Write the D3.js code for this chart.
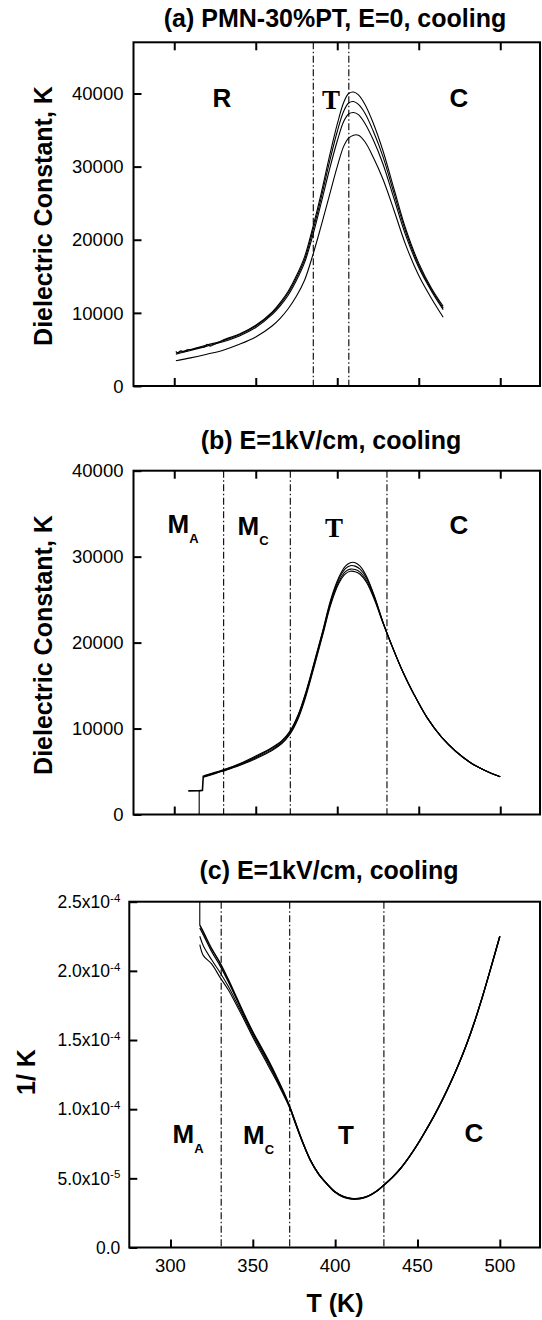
<!DOCTYPE html>
<html><head><meta charset="utf-8">
<script src="https://cdn.jsdelivr.net/npm/d3@7"></script>
<style>
html,body{margin:0;padding:0;background:#fff;}
svg{display:block;}
text{font-family:"Liberation Sans",Arial,Helvetica,sans-serif;fill:#000;}
</style></head><body>
<svg id="chart" width="542" height="1320"></svg>
<script>
// ---------- shared axis data ----------
const xTicks = [300, 350, 400, 450, 500];
const xTickLabels = ["300", "350", "400", "450", "500"];
const kTicks = [0, 10000, 20000, 30000, 40000];
const kTickLabels = ["0", "10000", "20000", "30000", "40000"];
const invTicks = [0, 5e-5, 1e-4, 1.5e-4, 2e-4, 2.5e-4];
const invTickMant = ["0.0", "5.0x10", "1.0x10", "1.5x10", "2.0x10", "2.5x10"];
const invTickExp = ["", "-5", "-4", "-4", "-4", "-4"];

// ---------- panel (a): PMN-30%PT, E=0 ----------
const tA = [301, 310, 320, 330, 340, 350, 360, 365, 370, 375, 380, 385, 390, 395, 400, 404, 407, 410, 413, 417, 422, 428, 435, 442, 450, 458, 465];
const tA1 = [301, 302, 304, 306, 308, 311, 314, 317, 319, 320, 322, 325, 328, 330, 340, 350, 360, 365, 370, 375, 380, 385, 390, 395, 400, 404, 407, 410, 413, 417, 422, 428, 435, 442, 450, 458, 465];
const kA1 = [4750, 4550, 4800, 4700, 4950, 5000, 5200, 5300, 5400, 5700, 5450, 5750, 6050, 6300, 7100, 8300, 10100, 11400, 13000, 15100, 17700, 21700, 26200, 31200, 35800, 38800, 40000, 40200, 39800, 38500, 36000, 32200, 26800, 21500, 16800, 13300, 10900];
const kA2 = [4500, 5000, 5600, 6200, 7000, 8200, 9950, 11200, 12750, 14800, 17300, 21200, 25600, 30400, 34800, 37600, 38700, 38900, 38500, 37300, 34900, 31400, 26200, 21100, 16500, 13100, 10650];
const kA3 = [4350, 4850, 5450, 6050, 6850, 8000, 9750, 10950, 12450, 14450, 16900, 20600, 24900, 29400, 33500, 36200, 37200, 37400, 37100, 35900, 33700, 30400, 25500, 20600, 16200, 12900, 10450];
const kA4 = [3450, 3850, 4350, 4900, 5700, 6700, 8200, 9250, 10600, 12300, 14500, 17900, 21800, 25900, 30000, 32800, 33900, 34300, 34300, 33400, 31300, 28300, 23900, 19300, 15100, 11900, 9400];
const boundsA = [385.3, 407.1];

// ---------- panel (b): E=1kV/cm ----------
const tB = [318, 325, 330, 340, 350, 360, 366, 371, 376, 381, 386, 391, 396, 401, 405, 408, 411, 414, 418, 423, 428, 433, 440, 447, 455, 464, 473, 482, 491, 500];
const kB1 = [4500, 4900, 5200, 5900, 6800, 7800, 8600, 9700, 11600, 14400, 17800, 21300, 25000, 27600, 28900, 29300, 29300, 28900, 27700, 25300, 22400, 19900, 16700, 14000, 11300, 9000, 7300, 6000, 5100, 4400];
const kB2 = [4450, 4850, 5150, 5850, 6700, 7700, 8500, 9600, 11500, 14300, 17700, 21200, 24800, 27400, 28600, 28950, 28900, 28550, 27500, 25200, 22400, 19900, 16700, 14000, 11300, 9000, 7300, 6000, 5100, 4400];
const kB3 = [4400, 4800, 5100, 5750, 6600, 7550, 8350, 9450, 11300, 14100, 17500, 21000, 24600, 27100, 28250, 28550, 28500, 28200, 27200, 25050, 22350, 19900, 16700, 14000, 11300, 9000, 7300, 6000, 5100, 4400];
const kB4 = [4350, 4750, 5050, 5700, 6500, 7450, 8250, 9350, 11150, 13900, 17300, 20800, 24400, 26900, 28000, 28300, 28250, 27950, 27000, 24900, 22300, 19850, 16700, 14000, 11300, 9000, 7300, 6000, 5100, 4400];
const tBStep = [308.6, 315.5, 317.3, 317.8, 318];
const kBStep = [2750, 2780, 2800, 4450, 4500];
const tBDrop = [315.3, 315.3, 316];
const kBDrop = [0, 2700, 2780];
const boundsB = [330.3, 371.2, 430.5];

// ---------- panel (c): 1/K, E=1kV/cm ----------
const tC = [317.8, 320, 325, 330, 335, 340, 345, 350, 355, 360, 365, 370, 373, 376, 380, 385, 390, 395, 400, 405, 410, 415, 420, 425, 430, 435, 440, 445, 450, 455, 460, 465, 470, 475, 480, 485, 490, 495, 500];
const invC1 = [2.33e-4, 2.28e-4, 2.16e-4, 2.06e-4, 1.94e-4, 1.81e-4, 1.68e-4, 1.56e-4, 1.45e-4, 1.34e-4, 1.22e-4, 1.09e-4, 1.00e-4, 0.90e-4, 0.77e-4, 0.63e-4, 0.53e-4, 0.46e-4, 0.40e-4, 0.365e-4, 0.35e-4, 0.352e-4, 0.37e-4, 0.405e-4, 0.455e-4, 0.51e-4, 0.575e-4, 0.655e-4, 0.745e-4, 0.845e-4, 0.95e-4, 1.065e-4, 1.19e-4, 1.325e-4, 1.475e-4, 1.645e-4, 1.835e-4, 2.04e-4, 2.25e-4];
const invC2 = [2.31e-4, 2.26e-4, 2.14e-4, 2.04e-4, 1.925e-4, 1.80e-4, 1.67e-4, 1.55e-4, 1.44e-4, 1.33e-4, 1.21e-4, 1.085e-4, 1.00e-4, 0.90e-4, 0.77e-4, 0.63e-4, 0.53e-4, 0.46e-4, 0.40e-4, 0.366e-4, 0.352e-4, 0.354e-4, 0.371e-4, 0.405e-4, 0.455e-4, 0.51e-4, 0.575e-4, 0.655e-4, 0.745e-4, 0.845e-4, 0.95e-4, 1.065e-4, 1.19e-4, 1.325e-4, 1.475e-4, 1.645e-4, 1.835e-4, 2.04e-4, 2.25e-4];
const invC3 = [2.25e-4, 2.18e-4, 2.08e-4, 1.99e-4, 1.89e-4, 1.775e-4, 1.655e-4, 1.535e-4, 1.425e-4, 1.315e-4, 1.20e-4, 1.08e-4, 0.995e-4, 0.895e-4, 0.77e-4, 0.63e-4, 0.53e-4, 0.46e-4, 0.402e-4, 0.368e-4, 0.354e-4, 0.356e-4, 0.372e-4, 0.406e-4, 0.456e-4, 0.511e-4, 0.576e-4, 0.655e-4, 0.745e-4, 0.845e-4, 0.95e-4, 1.065e-4, 1.19e-4, 1.325e-4, 1.475e-4, 1.645e-4, 1.835e-4, 2.04e-4, 2.25e-4];
const invC4 = [2.19e-4, 2.11e-4, 2.05e-4, 1.955e-4, 1.865e-4, 1.755e-4, 1.64e-4, 1.52e-4, 1.41e-4, 1.30e-4, 1.19e-4, 1.07e-4, 0.99e-4, 0.89e-4, 0.765e-4, 0.63e-4, 0.53e-4, 0.46e-4, 0.403e-4, 0.37e-4, 0.356e-4, 0.357e-4, 0.373e-4, 0.407e-4, 0.457e-4, 0.512e-4, 0.577e-4, 0.656e-4, 0.745e-4, 0.845e-4, 0.95e-4, 1.065e-4, 1.19e-4, 1.325e-4, 1.475e-4, 1.645e-4, 1.835e-4, 2.04e-4, 2.25e-4];
const tCJump = [317.8, 317.8];
const invCJump = [2.5e-4, 2.33e-4];
const boundsC = [330.8, 372.4, 429.6];

// ---------- drawing ----------
const svg = d3.select("#chart");
const FONT_BOLD = 25;
const xDomain = [275, 525];

function makePanel(cfg) {
  const x = d3.scaleLinear().domain(xDomain).range([cfg.left, 541]);
  const y = d3.scaleLinear().domain(cfg.yDomain).range([cfg.bottom, cfg.top]);
  const g = svg.append("g");
  const clipId = "clip" + cfg.id;
  svg.append("clipPath").attr("id", clipId).append("rect")
    .attr("x", cfg.left).attr("y", cfg.top)
    .attr("width", 540 - cfg.left).attr("height", cfg.bottom - cfg.top);

  // boundaries (dash-dot)
  g.selectAll("line.bound").data(cfg.bounds).join("line")
    .attr("x1", d => x(d)).attr("x2", d => x(d))
    .attr("y1", cfg.top).attr("y2", cfg.bottom)
    .attr("stroke", "#000").attr("stroke-width", 1.1)
    .attr("stroke-dasharray", "7,2.5,1.5,2.5");

  // curves
  const cg = g.append("g").attr("clip-path", `url(#${clipId})`);
  cfg.series.forEach(s => {
    const pts = s.t.map((t, i) => [t, s.v[i]]);
    const line = d3.line().x(d => x(d[0])).y(d => y(d[1]))
      .curve(s.linear ? d3.curveLinear : d3.curveCatmullRom.alpha(0.5));
    cg.append("path").attr("d", line(pts)).attr("fill", "none")
      .attr("stroke", "#000").attr("stroke-width", s.w || 1.1)
      .attr("stroke-linejoin", "round");
  });

  // axes ticks (inward)
  const bx = g.append("g").attr("transform", `translate(0,${cfg.bottom})`)
    .call(d3.axisBottom(x).tickValues(xTicks).tickSize(-8).tickFormat(""));
  bx.select(".domain").remove();
  bx.selectAll("line").attr("stroke-width", 2);
  if (cfg.topTicks) {
    const tx = g.append("g").attr("transform", `translate(0,${cfg.top})`)
      .call(d3.axisTop(x).tickValues(xTicks).tickSize(-8).tickFormat(""));
    tx.select(".domain").remove();
    tx.selectAll("line").attr("stroke-width", 2);
  }
  const ly = g.append("g").attr("transform", `translate(${cfg.left},0)`)
    .call(d3.axisLeft(y).tickValues(cfg.yTicks).tickSize(-8).tickFormat(""));
  ly.select(".domain").remove();
  ly.selectAll("line").attr("stroke-width", 2);

  // frame
  g.append("rect").attr("x", cfg.left).attr("y", cfg.top)
    .attr("width", 540 - cfg.left).attr("height", cfg.bottom - cfg.top)
    .attr("fill", "none").attr("stroke", "#000").attr("stroke-width", 2);

  // y tick labels
  if (cfg.yLabelsExp) {
    const tl = g.selectAll("text.yl").data(cfg.yTicks).join("text")
      .attr("x", cfg.left - 9).attr("y", d => y(d)).attr("dy", "0.36em")
      .attr("text-anchor", "end").attr("font-size", 17.5);
    tl.append("tspan").text((d, i) => cfg.yLabels[i]);
    tl.append("tspan").attr("dy", "-0.55em").attr("font-size", 11.5)
      .text((d, i) => cfg.yLabelsExp[i]);
  } else {
    g.selectAll("text.yl").data(cfg.yTicks).join("text")
      .attr("x", cfg.left - 10).attr("y", d => y(d)).attr("dy", "0.36em")
      .attr("text-anchor", "end").attr("font-size", 18.5)
      .text((d, i) => cfg.yLabels[i]);
  }

  // x tick labels
  if (cfg.xLabels) {
    g.selectAll("text.xl").data(xTicks).join("text")
      .attr("x", d => x(d)).attr("y", cfg.bottom + 24.5)
      .attr("text-anchor", "middle").attr("font-size", 18.5)
      .text((d, i) => xTickLabels[i]);
  }

  // title
  g.append("text").attr("x", cfg.titleX).attr("y", cfg.titleY)
    .attr("text-anchor", "middle").attr("font-size", FONT_BOLD).attr("font-weight", "bold")
    .text(cfg.title);

  // y axis title
  g.append("text")
    .attr("transform", `translate(${cfg.yTitleX},${cfg.yTitleY}) rotate(-90)`)
    .attr("text-anchor", "middle").attr("font-size", FONT_BOLD).attr("font-weight", "bold")
    .text(cfg.yTitle);

  // region labels
  cfg.regions.forEach(r => {
    const t = g.append("text").attr("x", r.x).attr("y", r.y)
      .attr("font-size", 26).attr("font-weight", "bold")
      .attr("text-anchor", r.sub ? "start" : "middle");
    if (r.serif) t.style("font-family", '"Liberation Serif","Times New Roman",serif').attr("font-size", 27);
    t.append("tspan").text(r.text);
    if (r.sub) t.append("tspan").attr("dy", 9.5).attr("font-size", 13).text(r.sub);
  });
  return { x, y };
}

makePanel({
  id: "a", left: 133.5, top: 42.3, bottom: 386, yDomain: [0, 47000],
  yTicks: kTicks, yLabels: kTickLabels, topTicks: true, xLabels: false,
  bounds: boundsA,
  series: [{ t: tA1, v: kA1 }, { t: tA, v: kA2 }, { t: tA, v: kA3 }, { t: tA, v: kA4 }],
  title: "(a) PMN-30%PT, E=0, cooling", titleX: 335, titleY: 26.5,
  yTitle: "Dielectric Constant, K", yTitleX: 52, yTitleY: 216,
  regions: [
    { text: "R", x: 222, y: 107 },
    { text: "T", x: 331, y: 109, serif: true },
    { text: "C", x: 459, y: 107 }
  ]
});

makePanel({
  id: "b", left: 133.5, top: 470.7, bottom: 814.5, yDomain: [0, 40000],
  yTicks: kTicks, yLabels: kTickLabels, topTicks: true, xLabels: false,
  bounds: boundsB,
  series: [
    { t: tBDrop, v: kBDrop, linear: true },
    { t: tBStep, v: kBStep, linear: true, w: 1.6 },
    { t: tB, v: kB1 }, { t: tB, v: kB2 }, { t: tB, v: kB3 }, { t: tB, v: kB4 }
  ],
  title: "(b) E=1kV/cm, cooling", titleX: 331, titleY: 448.5,
  yTitle: "Dielectric Constant, K", yTitleX: 52, yTitleY: 645,
  regions: [
    { text: "M", sub: "A", x: 167.5, y: 533 },
    { text: "M", sub: "C", x: 237.5, y: 535 },
    { text: "T", x: 334, y: 536.5, serif: true },
    { text: "C", x: 459, y: 534 }
  ]
});

makePanel({
  id: "c", left: 129.3, top: 901.7, bottom: 1247.5, yDomain: [0, 2.5e-4],
  yTicks: invTicks, yLabels: invTickMant, yLabelsExp: invTickExp, topTicks: false, xLabels: true,
  bounds: boundsC,
  series: [
    { t: tCJump, v: invCJump, linear: true },
    { t: tC, v: invC1, w: 1.5 }, { t: tC, v: invC2, w: 1.3 }, { t: tC, v: invC3 }, { t: tC, v: invC4 }
  ],
  title: "(c) E=1kV/cm, cooling", titleX: 329, titleY: 879,
  yTitle: "1/ K", yTitleX: 35, yTitleY: 1072,
  regions: [
    { text: "M", sub: "A", x: 172.5, y: 1143 },
    { text: "M", sub: "C", x: 243, y: 1144 },
    { text: "T", x: 346, y: 1144 },
    { text: "C", x: 474, y: 1142 }
  ]
});

svg.append("text").attr("x", 335).attr("y", 1311.5)
  .attr("text-anchor", "middle").attr("font-size", FONT_BOLD).attr("font-weight", "bold")
  .text("T (K)");
</script>
</body></html>
